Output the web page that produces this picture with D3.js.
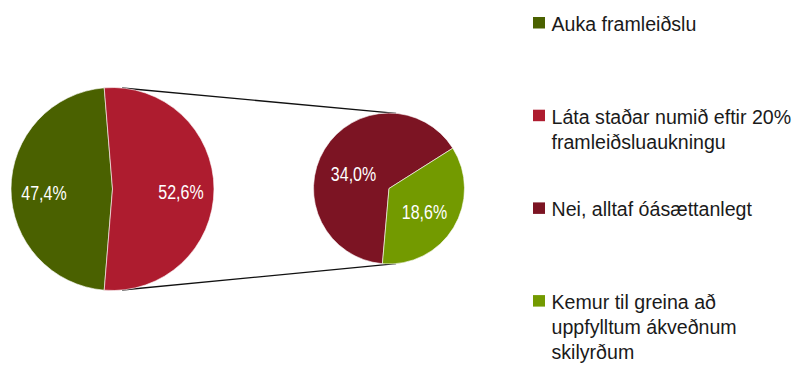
<!DOCTYPE html>
<html>
<head>
<meta charset="utf-8">
<script src="https://cdn.jsdelivr.net/npm/d3@7"></script>
<style>
  html, body { margin: 0; padding: 0; background: #ffffff; }
  svg { display: block; }
</style>
</head>
<body>
<script>
// Primary pie: two answers; the second is broken out into the secondary pie
const mainCategories = ["Auka framleiðslu", "Láta staðar numið eftir 20% framleiðsluaukningu"];
const mainValues = [47.4, 52.6];
const mainLabels = ["47,4%", "52,6%"];

// Secondary pie: split of the second answer
const subCategories = ["Nei, alltaf óásættanlegt", "Kemur til greina að uppfylltum ákveðnum skilyrðum"];
const subValues = [34.0, 18.6];
const subLabels = ["34,0%", "18,6%"];

// Legend entries, already wrapped into lines
const legendCategories = [...mainCategories, ...subCategories];
const legendLines = [
  ["Auka framleiðslu"],
  ["Láta staðar numið eftir 20%", "framleiðsluaukningu"],
  ["Nei, alltaf óásættanlegt"],
  ["Kemur til greina að", "uppfylltum ákveðnum", "skilyrðum"]
];
const palette = ["#4A6100", "#AE1C2F", "#7C1423", "#739A00"];

const W = 795, H = 368;
const FONT = "'Liberation Sans', Arial, Helvetica, sans-serif";

const svg = d3.select("body").append("svg")
  .attr("width", W).attr("height", H)
  .style("font-family", FONT);

const color = d3.scaleOrdinal().domain(legendCategories).range(palette);

// Geometry of the two circles
const main = { cx: 112.5, cy: 189, r: 101.5 };
const sub  = { cx: 389,   cy: 188.5, r: 75.5 };

// Primary pie: the broken-out slice is centred on the right-hand side
const mainTotal = d3.sum(mainValues);
const fracSplit = mainValues[1] / mainTotal;
const fracFirst = mainValues[0] / mainTotal;
const mainStart = Math.PI / 2 - fracSplit * Math.PI - fracFirst * 2 * Math.PI;

const mainPie = d3.pie().sort(null).value(d => d.v)
  .startAngle(mainStart).endAngle(mainStart + 2 * Math.PI);
const mainData = mainPie(mainValues.map((v, i) => ({ v, cat: mainCategories[i], label: mainLabels[i] })));

// Secondary pie
const subStart = 185 * Math.PI / 180;
const subPie = d3.pie().sort(null).value(d => d.v)
  .startAngle(subStart).endAngle(subStart + 2 * Math.PI);
const subData = subPie(subValues.map((v, i) => ({ v, cat: subCategories[i], label: subLabels[i] })));

// Connector lines: outer common tangents of the two circles
const dx = sub.cx - main.cx;
const alpha = Math.asin((main.r - sub.r) / dx);
const tangents = [-1, 1].map(s => {
  const nx = Math.sin(alpha), ny = s * Math.cos(alpha);
  return [
    [main.cx + main.r * nx, main.cy + main.r * ny],
    [sub.cx + sub.r * nx, sub.cy + sub.r * ny]
  ];
});
svg.append("g").selectAll("line").data(tangents).join("line")
  .attr("x1", d => d[0][0]).attr("y1", d => d[0][1])
  .attr("x2", d => d[1][0]).attr("y2", d => d[1][1])
  .attr("stroke", "#111").attr("stroke-width", 1.4);

function drawPie(center, data, labelFactor, labelShift) {
  const g = svg.append("g").attr("transform", `translate(${center.cx},${center.cy})`);
  const arc = d3.arc().innerRadius(0).outerRadius(center.r);
  const labelArc = d3.arc().innerRadius(center.r * labelFactor).outerRadius(center.r * labelFactor);
  g.selectAll("path").data(data).join("path")
    .attr("d", arc)
    .attr("fill", d => color(d.data.cat))
    .attr("stroke", "#ffffff")
    .attr("stroke-width", 0.6)
    .attr("stroke-linejoin", "round");
  g.selectAll("text").data(data).join("text")
    .attr("transform", (d, i) => {
      const [x, y] = labelArc.centroid(d);
      return `translate(${x},${y + labelShift[i]}) scale(0.82,1)`;
    })
    .attr("text-anchor", "middle")
    .attr("font-size", 19.5)
    .attr("fill", "#ffffff")
    .text(d => d.data.label);
}

drawPie(main, mainData, 0.675, [11, 10]);
drawPie(sub, subData, 0.55, [14, 9]);

// Legend
const legend = svg.append("g").attr("font-size", 19.6).attr("fill", "#1a1a1a");
const lineH = 25;
const entries = legend.selectAll("g").data(legendCategories).join("g")
  .attr("transform", (d, i) => `translate(533,${31 + i * 92.7})`);
entries.append("rect")
  .attr("x", 0).attr("y", -14).attr("width", 12).attr("height", 11.5)
  .attr("fill", d => color(d));
entries.append("text")
  .attr("x", 18.5)
  .selectAll("tspan").data((d, i) => legendLines[i]).join("tspan")
  .attr("x", 18.5)
  .attr("y", (d, j) => j * lineH)
  .text(d => d);
</script>
</body>
</html>
